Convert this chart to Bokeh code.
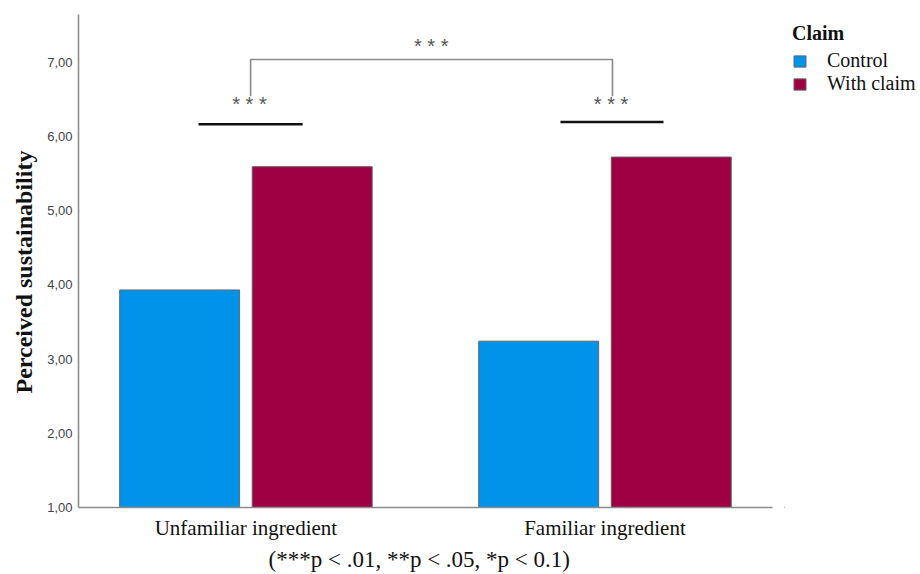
from bokeh.plotting import figure
from bokeh.layouts import row
from bokeh.models import Range1d, FixedTicker, Legend, LegendItem, Title, ColumnDataSource
from bokeh.core.properties import value
from bokeh.embed import file_html
from bokeh.resources import INLINE

# ---- data ----
categories = ["Unfamiliar ingredient", "Familiar ingredient"]
series_names = ["Control", "With claim"]
control_values = [3.93, 3.24]
claim_values = [5.59, 5.72]
y_ticks = [1, 2, 3, 4, 5, 6, 7]
y_tick_labels = ["1,00", "2,00", "3,00", "4,00", "5,00", "6,00", "7,00"]
sig_labels = ["***", "***", "***"]
y_title = "Perceived sustainability"
legend_title = "Claim"
footnote = "(***p < .01, **p < .05, *p < 0.1)"

BLUE = "#0093E9"
MAROON = "#9E0043"
SERIF = "Liberation Serif"
SANS = "Liberation Sans"

p = figure(width=780, height=574, output_backend="svg", toolbar_location=None,
           x_range=Range1d(0.5337, 2.4666), y_range=Range1d(1, 7.64),
           min_border_left=78, min_border_right=8, min_border_top=14, min_border_bottom=67)
p.outline_line_color = None
p.xgrid.visible = False
p.ygrid.visible = False
p.background_fill_color = "white"

xpos = [i + 1 for i in range(len(categories))]
offset = 0.1846
bw = 0.334
src_c = ColumnDataSource(dict(x=[v - offset for v in xpos], top=control_values))
src_w = ColumnDataSource(dict(x=[v + offset for v in xpos], top=claim_values))
bar_styles = [dict(fill_color=BLUE, line_color="#5a6a78", line_width=1),
              dict(fill_color=MAROON, line_color="#6a5a60", line_width=1)]
r1 = p.vbar(x="x", top="top", bottom=1, width=bw, source=src_c, **bar_styles[0])
r2 = p.vbar(x="x", top="top", bottom=1, width=bw, source=src_w, **bar_styles[1])

# axes
for ax in (p.xaxis[0], p.yaxis[0]):
    ax.axis_line_color = "#8c8c8c"
    ax.axis_line_width = 1.6
    ax.major_tick_in = 0
    ax.major_tick_out = 0
    ax.minor_tick_in = 0
    ax.minor_tick_out = 0

p.xaxis.ticker = FixedTicker(ticks=xpos)
p.xaxis.major_label_overrides = {x: c for x, c in zip(xpos, categories)}
p.xaxis.major_label_text_font = SERIF
p.xaxis.major_label_text_font_size = "21px"
p.xaxis.major_label_text_color = "#111111"
p.xaxis.major_label_standoff = 8

p.yaxis.ticker = FixedTicker(ticks=y_ticks)
p.yaxis.major_label_overrides = {t: l for t, l in zip(y_ticks, y_tick_labels)}
p.yaxis.major_label_text_font = SANS
p.yaxis.major_label_text_font_size = "13px"
p.yaxis.major_label_text_color = "#444444"
p.yaxis.major_label_standoff = 6

# y title as a side title (start-aligned so it can be shifted along the axis)
p.add_layout(Title(text=y_title, text_font=SERIF, text_font_style="bold", text_font_size="24px",
                   text_color="#111111", align="left", offset=114, standoff=16), "left")

# footnote below the category labels
p.add_layout(Title(text=footnote, text_font=SERIF, text_font_style="normal", text_font_size="23px",
                   text_color="#111111", align="left", offset=190, standoff=4), "below")

# significance annotations
x1 = xpos[0]
x2 = xpos[1]
p.line(x=[x1 + 0.013, x1 + 0.013, x2 + 0.021, x2 + 0.021], y=[6.54, 7.034, 7.034, 6.54],
       line_color="#8a8a8a", line_width=1.6)
p.line(x=[x1 - 0.132, x1 + 0.158], y=[6.162, 6.162], line_color="#111111", line_width=2.5)
p.line(x=[x2 - 0.124, x2 + 0.163], y=[6.193, 6.193], line_color="#111111", line_width=2.5)
star_src = ColumnDataSource(dict(x=[(x1 + x2) / 2 + 0.016, x1 + 0.01, x2 + 0.017],
                                 y=[7.22, 6.43, 6.43],
                                 t=[" ".join(s) for s in sig_labels]))
p.text(x="x", y="y", text="t", source=star_src, text_font=value(SANS), text_font_size="20px",
       text_color="#555555", text_align="center", text_baseline="middle")

# ---- legend panel (separate small figure to the right) ----
q = figure(width=140, height=574, output_backend="svg", toolbar_location=None,
           x_axis_type=None, y_axis_type=None, x_range=Range1d(0, 1), y_range=Range1d(0, 1),
           min_border_left=4, min_border_right=0, min_border_top=14, min_border_bottom=0)
q.outline_line_color = None
q.background_fill_color = "white"
# legend-only proxy renderers (their single bar lies outside the visible range)
proxies = [q.vbar(x=[-5], top=[-5], bottom=-6, width=0.1, **st) for st in bar_styles]
legend = Legend(items=[LegendItem(label=n, renderers=[r]) for n, r in zip(series_names, proxies)],
                location="top_left", title=legend_title,
                title_text_font=SERIF, title_text_font_style="bold", title_text_font_size="20px",
                title_text_color="#111111", title_standoff=4,
                label_text_font=SERIF, label_text_font_size="20px", label_text_color="#111111",
                glyph_width=15, glyph_height=14, label_standoff=20, label_height=20,
                spacing=0, padding=0, margin=8, border_line_color=None,
                background_fill_alpha=0)
q.add_layout(legend, "center")

layout = row(p, q, spacing=0)
open("out.html", "w").write(file_html(layout, INLINE))
